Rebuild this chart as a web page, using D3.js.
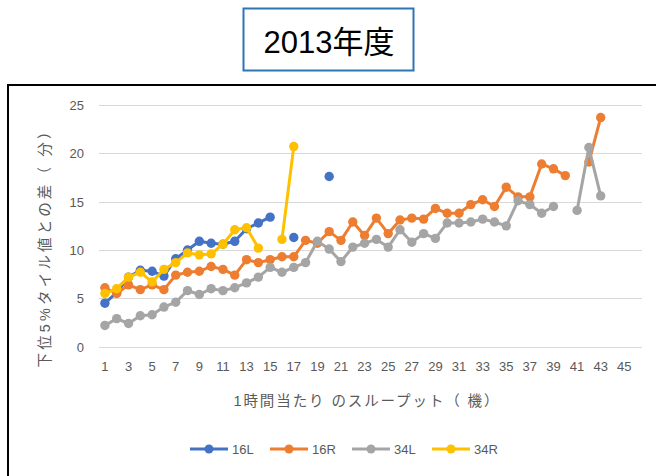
<!DOCTYPE html>
<html><head><meta charset="utf-8">
<script src="https://cdn.jsdelivr.net/npm/d3@7"></script>
<style>
html,body{margin:0;padding:0;background:#fff;}
svg{display:block;}
</style>
</head><body>
<svg id="c" width="656" height="476"></svg>
<script>
const categories = d3.range(1, 47);
const tickLabels = d3.range(1, 46, 2);
const yTicks = [0, 5, 10, 15, 20, 25];
const s16L = [4.5, 5.6, 7.2, 7.9, 7.8, 7.3, 9.1, 10.0, 10.9, 10.7, 10.6, 10.9, 12.2, 12.8, 13.4, null, 11.3, null, null, 17.6];
const s16R = [6.1, 5.5, 6.4, 5.9, 6.4, 5.9, 7.4, 7.7, 7.8, 8.3, 8.0, 7.4, 9.0, 8.7, 9.0, 9.3, 9.3, 11.0, 10.7, 11.9, 11.0, 12.9, 11.5, 13.3, 11.7, 13.1, 13.3, 13.2, 14.3, 13.8, 13.8, 14.7, 15.2, 14.5, 16.5, 15.5, 15.5, 18.9, 18.4, 17.7, null, 19.1, 23.7];
const s34L = [2.2, 2.9, 2.4, 3.2, 3.3, 4.1, 4.6, 5.8, 5.4, 6.0, 5.8, 6.1, 6.6, 7.2, 8.2, 7.7, 8.2, 8.7, 10.9, 10.1, 8.8, 10.3, 10.7, 11.1, 10.3, 12.1, 10.8, 11.7, 11.2, 12.8, 12.8, 12.9, 13.2, 12.9, 12.5, 15.1, 14.7, 13.8, 14.5, null, 14.1, 20.6, 15.6];
const s34R = [5.5, 6.0, 7.2, 7.7, 6.7, 8.0, 8.7, 9.7, 9.5, 9.6, 10.6, 12.1, 12.3, 10.2, null, 11.1, 20.7];
const seriesNames = ["16L", "16R", "34L", "34R"];
const seriesColors = ["#4472C4", "#ED7D31", "#A5A5A5", "#FFC000"];
const seriesValues = [s16L, s16R, s34L, s34R];

const svg = d3.select("#c");
const FONT = "'Liberation Sans','Noto Sans CJK JP',sans-serif";
const TXT = "#595959";

// title box
svg.append("rect").attr("x", 243.5).attr("y", 8.5).attr("width", 170).attr("height", 62)
  .attr("fill", "#fff").attr("stroke", "#2E75B6").attr("stroke-width", 2);
svg.append("text").attr("x", 329).attr("y", 53).attr("text-anchor", "middle")
  .attr("font-family", FONT).attr("font-size", 31).attr("fill", "#000").text("2013年度");

// chart frame
svg.append("rect").attr("x", 8).attr("y", 85).attr("width", 700).attr("height", 500)
  .attr("fill", "#fff").attr("stroke", "#000").attr("stroke-width", 2);

const x = d3.scaleBand().domain(categories).range([99, 642]).padding(0);
const y = d3.scaleLinear().domain([0, 25]).range([346.7, 105]);
const cx = i => x(i) + x.bandwidth() / 2;

// gridlines
svg.append("g").selectAll("line").data(yTicks).join("line")
  .attr("x1", 99).attr("x2", 642)
  .attr("y1", d => Math.round(y(d)) + 0.5).attr("y2", d => Math.round(y(d)) + 0.5)
  .attr("stroke", "#D9D9D9").attr("stroke-width", 1);

// y axis labels
const yAxis = d3.axisLeft(y).tickValues(yTicks).tickSize(0).tickPadding(0);
const gy = svg.append("g").attr("transform", "translate(84,0)").call(yAxis);
gy.select(".domain").remove();
gy.selectAll("text").attr("font-family", FONT).attr("font-size", 13).attr("fill", TXT).attr("dy", "0.35em");

// x axis labels
const xAxis = d3.axisBottom(x).tickValues(tickLabels).tickSize(0).tickPadding(0);
const gx = svg.append("g").attr("transform", "translate(0,362)").call(xAxis);
gx.select(".domain").remove();
gx.selectAll("text").attr("font-family", FONT).attr("font-size", 13).attr("fill", TXT).attr("dy", "0.71em");

// axis titles
svg.append("text").attr("transform", "translate(50,246) rotate(-90)")
  .attr("text-anchor", "middle").attr("font-family", FONT).attr("font-size", 14.5).attr("fill", TXT)
  .attr("textLength", 243).attr("lengthAdjust", "spacing")
  .text("下位5%タイル値との差（ 分）");
svg.append("text").attr("x", 366).attr("y", 406)
  .attr("text-anchor", "middle").attr("font-family", FONT).attr("font-size", 14.5).attr("fill", TXT)
  .attr("textLength", 265).attr("lengthAdjust", "spacing")
  .text("1時間当たり のスループット（ 機）");

// series
const line = d3.line().defined(d => d.v != null).x(d => cx(d.i)).y(d => y(d.v));
seriesValues.forEach((vals, k) => {
  const pts = vals.map((v, j) => ({i: categories[j], v: v}));
  const g = svg.append("g");
  g.append("path").datum(pts).attr("d", line).attr("fill", "none")
    .attr("stroke", seriesColors[k]).attr("stroke-width", 3).attr("stroke-linejoin", "round");
  g.selectAll("circle").data(pts.filter(d => d.v != null)).join("circle")
    .attr("cx", d => cx(d.i)).attr("cy", d => y(d.v)).attr("r", 4.7)
    .attr("fill", seriesColors[k]);
});

// legend
const legendX = [190, 270, 352, 432];
const lg = svg.append("g");
seriesNames.forEach((n, k) => {
  const lx = legendX[k], ly = 449;
  lg.append("line").attr("x1", lx).attr("x2", lx + 38).attr("y1", ly).attr("y2", ly)
    .attr("stroke", seriesColors[k]).attr("stroke-width", 3);
  lg.append("circle").attr("cx", lx + 19).attr("cy", ly).attr("r", 4.5).attr("fill", seriesColors[k]);
  lg.append("text").attr("x", lx + 42).attr("y", ly).attr("dy", "0.35em")
    .attr("font-family", FONT).attr("font-size", 13).attr("fill", TXT).text(n);
});
</script>
</body></html>
